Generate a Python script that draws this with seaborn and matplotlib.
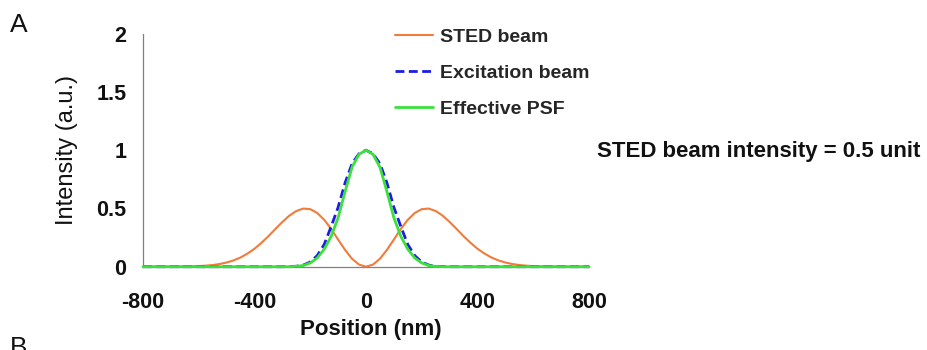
import matplotlib
matplotlib.use("Agg")
import matplotlib.pyplot as plt
import seaborn as sns

# Beam profiles sampled every 25 nm from -800 nm to 800 nm
positions = list(range(-800, 825, 25))

sted_beam = [
    0, 0, 0, 0, 0, 0.001, 0.002, 0.003, 0.005, 0.009, 0.014, 0.023, 0.036, 0.054,
    0.079, 0.113, 0.154, 0.205, 0.262, 0.324, 0.384, 0.438, 0.478, 0.499, 0.494,
    0.461, 0.403, 0.324, 0.233, 0.144, 0.068, 0.018,
    0,
    0.018, 0.068, 0.144, 0.233, 0.324, 0.403, 0.461, 0.494, 0.499, 0.478, 0.438,
    0.384, 0.324, 0.262, 0.205, 0.154, 0.113, 0.079, 0.054, 0.036, 0.023, 0.014,
    0.009, 0.005, 0.003, 0.002, 0.001, 0, 0, 0, 0, 0,
]

excitation_beam = [
    0, 0, 0, 0, 0, 0, 0, 0, 0, 0, 0, 0, 0, 0, 0, 0, 0, 0, 0, 0, 0,
    0.001, 0.004, 0.014, 0.040, 0.095, 0.190, 0.345, 0.510, 0.720, 0.885, 0.970,
    1.0,
    0.970, 0.885, 0.720, 0.510, 0.345, 0.190, 0.095, 0.040, 0.014, 0.004, 0.001,
    0, 0, 0, 0, 0, 0, 0, 0, 0, 0, 0, 0, 0, 0, 0, 0, 0, 0, 0, 0, 0,
]

effective_psf = [
    0, 0, 0, 0, 0, 0, 0, 0, 0, 0, 0, 0, 0, 0, 0, 0, 0, 0, 0, 0, 0,
    0, 0.003, 0.010, 0.032, 0.075, 0.150, 0.260, 0.420, 0.645, 0.855, 0.965,
    1.0,
    0.965, 0.855, 0.645, 0.420, 0.260, 0.150, 0.075, 0.032, 0.010, 0.003, 0,
    0, 0, 0, 0, 0, 0, 0, 0, 0, 0, 0, 0, 0, 0, 0, 0, 0, 0, 0, 0, 0,
]

series_names = ["STED beam", "Excitation beam", "Effective PSF"]
x_ticks = [-800, -400, 0, 400, 800]
x_tick_labels = ["-800", "-400", "0", "400", "800"]
y_ticks = [0, 0.5, 1, 1.5, 2]
y_tick_labels = ["0", "0.5", "1", "1.5", "2"]

sns.set_style("white")
plt.rcParams["font.family"] = ["Liberation Sans", "DejaVu Sans"]
plt.rcParams["axes.unicode_minus"] = False

fig = plt.figure(figsize=(9.28, 3.5), dpi=100)
ax = fig.add_axes([143 / 928, 83.3 / 350, 446 / 928, 233 / 350])

orange = "#F07B3A"
blue = "#1C1CE6"
green = "#3CE03C"

sns.lineplot(x=positions, y=sted_beam, ax=ax, color=orange, linewidth=1.5,
             label=series_names[0], clip_on=False, zorder=3)
sns.lineplot(x=positions, y=excitation_beam, ax=ax, color=blue, linewidth=2.0,
             linestyle=(0, (3.2, 1.6)), label=series_names[1], clip_on=False,
             zorder=3)
sns.lineplot(x=positions, y=effective_psf, ax=ax, color=green, linewidth=2.0,
             label=series_names[2], clip_on=False, zorder=3)

ax.set_xlim(-800, 800)
ax.set_ylim(0, 2)
ax.set_xticks(x_ticks)
ax.set_xticklabels(x_tick_labels, fontweight="bold")
ax.set_yticks(y_ticks)
ax.set_yticklabels(y_tick_labels, fontweight="bold")
ax.set_xlabel("")
ax.set_ylabel("")

for side in ("top", "right"):
    ax.spines[side].set_visible(False)
for side in ("left", "bottom"):
    ax.spines[side].set_color("#808080")
    ax.spines[side].set_linewidth(0.9)

ax.tick_params(axis="both", direction="in", length=4, width=0.9,
               color="#808080", labelsize=15.5, labelcolor="#111111")
ax.tick_params(axis="x", pad=18)
ax.tick_params(axis="y", pad=12)

handles, labels = ax.get_legend_handles_labels()
ax.legend(handles, labels, loc="upper left",
          bbox_to_anchor=(395 / 928, 1 - 28 / 350),
          bbox_transform=fig.transFigure, frameon=False,
          handlelength=1.95, handletextpad=0.35, labelspacing=0.95,
          borderpad=0.0, borderaxespad=0.0,
          prop={"weight": "bold", "size": 14})

fig.text(67 / 928, 1 - 150 / 350, "Intensity (a.u.)", rotation=90,
         ha="center", va="center", fontsize=17, color="#111111")
fig.text(371 / 928, 1 - 330 / 350, "Position (nm)", ha="center", va="center",
         fontsize=16, fontweight="bold", color="#111111")
fig.text(597 / 928, 1 - 152 / 350, "STED beam intensity = 0.5 unit",
         ha="left", va="center", fontsize=16, fontweight="bold",
         color="#111111")
fig.text(10 / 928, 1 - 32 / 350, "A", ha="left", va="baseline",
         fontsize=19, color="#111111")
fig.text(10 / 928, 1 - 336 / 350, "B", ha="left", va="top",
         fontsize=19, color="#111111")

fig.savefig("out.png", dpi=100)
